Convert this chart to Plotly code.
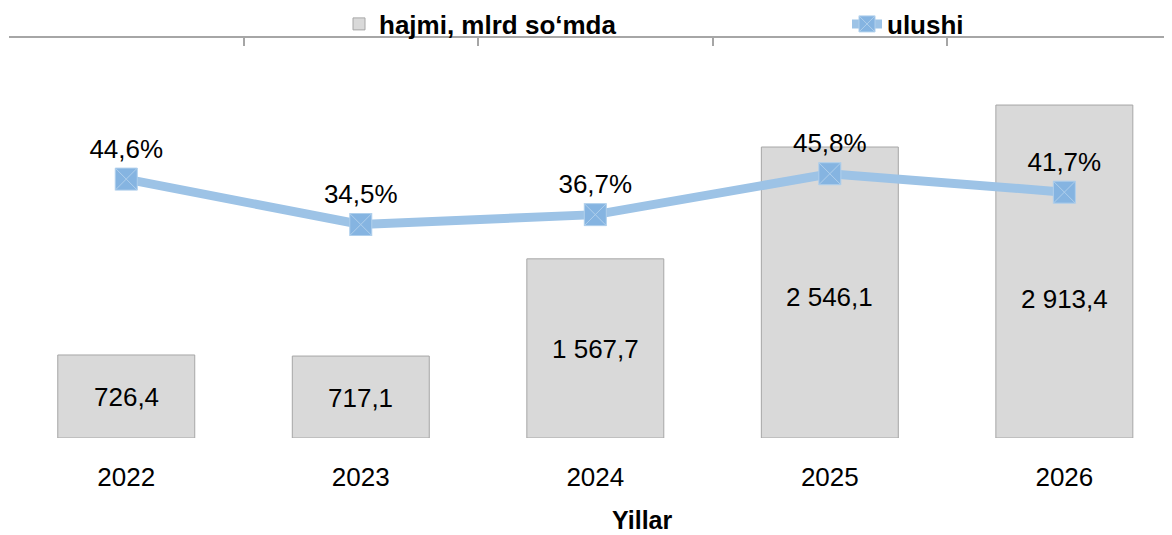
import plotly.graph_objects as go

years = ["2022", "2023", "2024", "2025", "2026"]
hajmi = [726.4, 717.1, 1567.7, 2546.1, 2913.4]
ulushi = [0.446, 0.345, 0.367, 0.458, 0.417]
bar_name = "hajmi, mlrd so‘mda"
line_name = "ulushi"
x_title = "Yillar"

FONT = "Liberation Sans, Arial, sans-serif"
FS = 26

W, H = 1164, 527
pl, pr, pt, pb = 1, 0, 29.5, 97
pw, ph = W - pl - pr, H - pt - pb

fig = go.Figure()
fig.add_trace(go.Bar(
    x=years, y=hajmi, name=bar_name, legend="legend",
    marker=dict(color="#D9D9D9", line=dict(color="#A6A6A6", width=1)),
    width=0.584, hoverinfo="skip",
))
fig.add_trace(go.Scatter(
    x=years, y=ulushi, name=line_name, xaxis="x2", yaxis="y2", legend="legend2",
    mode="lines+markers+text",
    line=dict(color="#9DC3E6", width=9),
    marker=dict(symbol="square-x", size=22, color="#85B4E1",
                line=dict(color="#AFCFEC", width=1)),
    texttemplate="%{y:.1%}", textposition="top center",
    textfont=dict(family=FONT, size=FS, color="black"),
))

def fmt(v):
    return f"{v:,.1f}".replace(",", " ").replace(".", ",")

label_shift = [-1, -1, -1, -4, -27]
annotations = []
for i, (v, s) in enumerate(zip(hajmi, label_shift)):
    annotations.append(dict(x=i, y=v / 2, xref="x", yref="y", text=fmt(v),
                            showarrow=False, yshift=s,
                            font=dict(family=FONT, size=FS, color="black")))
annotations.append(dict(x=(634 - pl) / pw, y=(H - pb - 512) / ph,
                        xref="paper", yref="paper",
                        text=f"<b>{x_title}</b>", showarrow=False,
                        xanchor="center", yanchor="middle",
                        font=dict(family=FONT, size=25, color="black")))

legend_font = dict(family=FONT, size=FS, color="black", weight="bold")

fig.update_layout(
    width=W, height=H,
    margin=dict(l=pl, r=pr, t=pt, b=pb, pad=0, autoexpand=False),
    paper_bgcolor="white", plot_bgcolor="white",
    separators=", ",
    font=dict(family=FONT, size=FS, color="black"),
    showlegend=True,
    legend=dict(orientation="h", x=331 / W, y=1 - 16 / H, xanchor="left", yanchor="middle",
                xref="container", yref="container",
                font=legend_font, bgcolor="rgba(0,0,0,0)"),
    legend2=dict(orientation="h", x=839 / W, y=1 - 16 / H, xanchor="left", yanchor="middle",
                 xref="container", yref="container",
                 font=legend_font, bgcolor="rgba(0,0,0,0)"),
    xaxis=dict(type="category", range=[-0.5, 4.459], showline=False, showgrid=False,
               ticks="", ticklabelstandoff=21, automargin=False,
               tickfont=dict(family=FONT, size=FS, color="black"), fixedrange=True),
    xaxis2=dict(type="category", overlaying="x", matches="x", side="top", anchor="y2",
                showline=True, linecolor="#A6A6A6", linewidth=1.5,
                ticks="inside", ticklen=8, tickcolor="#A6A6A6", tickwidth=1.5,
                tickson="boundaries", showticklabels=False, showgrid=False,
                automargin=False),
    yaxis=dict(range=[0, 3500], visible=False, showgrid=False, automargin=False),
    yaxis2=dict(range=[-0.13, 0.76], overlaying="y", side="right", anchor="x",
                visible=False, showgrid=False, automargin=False),
    annotations=annotations,
)

fig.write_html("out.html")
